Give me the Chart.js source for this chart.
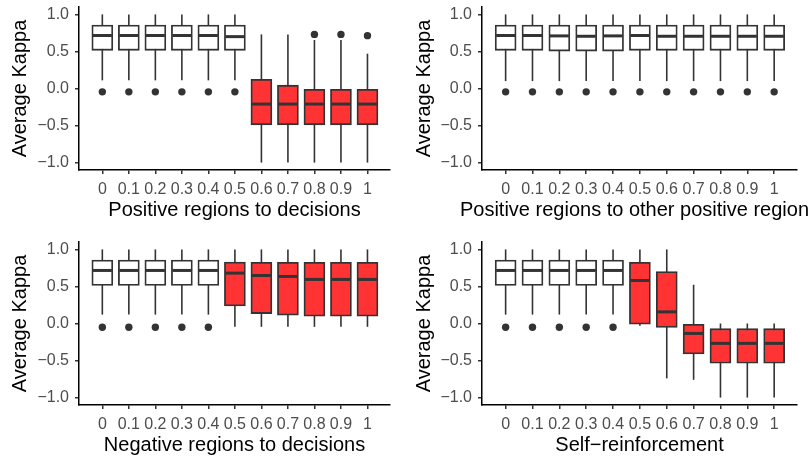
<!DOCTYPE html>
<html>
<head>
<meta charset="utf-8">
<script src="https://cdn.jsdelivr.net/npm/chart.js@4/dist/chart.umd.min.js"></script>
<style>
  html, body { margin: 0; padding: 0; background: #ffffff; }
  body { position: relative; width: 808px; height: 457px; overflow: hidden; }
  canvas { position: absolute; }
</style>
</head>
<body>
<canvas id="chartPosDecisions" width="404" height="228" style="left:0;top:0"></canvas>
<canvas id="chartPosOther" width="404" height="228" style="left:404px;top:0"></canvas>
<canvas id="chartNegDecisions" width="404" height="229" style="left:0;top:228px"></canvas>
<canvas id="chartSelf" width="404" height="229" style="left:404px;top:228px"></canvas>
<script>
const xLabels = ["0", "0.1", "0.2", "0.3", "0.4", "0.5", "0.6", "0.7", "0.8", "0.9", "1"];
const yTicks = [-1, -0.5, 0, 0.5, 1];

// Positive regions to decisions
const posDecLow = [0.11, 0.11, 0.11, 0.11, 0.11, 0.11, -1, -1, -1, -1, -1];
const posDecQ1 = [0.515, 0.515, 0.515, 0.515, 0.515, 0.515, -0.49, -0.49, -0.49, -0.49, -0.49];
const posDecMedian = [0.715, 0.715, 0.715, 0.715, 0.715, 0.7, -0.21, -0.21, -0.21, -0.21, -0.21];
const posDecQ3 = [0.857, 0.857, 0.857, 0.857, 0.857, 0.857, 0.125, 0.045, 0, 0, 0];
const posDecHigh = [1, 1, 1, 1, 1, 1, 0.73, 0.73, 0.655, 0.655, 0.47];
const posDecOutX = [0, 1, 2, 3, 4, 5, 8, 9, 10];
const posDecOutY = [-0.045, -0.045, -0.045, -0.045, -0.045, -0.045, 0.73, 0.73, 0.713];
const posDecRed = [0, 0, 0, 0, 0, 0, 1, 1, 1, 1, 1];

// Positive regions to other positive regions
const posOthLow = [0.1, 0.1, 0.1, 0.1, 0.1, 0.1, 0.1, 0.1, 0.1, 0.1, 0.1];
const posOthQ1 = [0.515, 0.515, 0.505, 0.505, 0.505, 0.515, 0.515, 0.515, 0.515, 0.515, 0.515];
const posOthMedian = [0.715, 0.715, 0.71, 0.705, 0.71, 0.715, 0.705, 0.705, 0.705, 0.705, 0.705];
const posOthQ3 = [0.857, 0.857, 0.857, 0.857, 0.857, 0.857, 0.857, 0.857, 0.857, 0.857, 0.857];
const posOthHigh = [1, 1, 1, 1, 1, 1, 1, 1, 1, 1, 1];
const posOthOutX = [0, 1, 2, 3, 4, 5, 6, 7, 8, 9, 10];
const posOthOutY = [-0.045, -0.045, -0.045, -0.045, -0.045, -0.045, -0.045, -0.045, -0.045, -0.045, -0.045];
const posOthRed = [0, 0, 0, 0, 0, 0, 0, 0, 0, 0, 0];

// Negative regions to decisions
const negDecLow = [0.12, 0.12, 0.12, 0.12, 0.12, -0.045, -0.045, -0.045, -0.045, -0.045, -0.045];
const negDecQ1 = [0.514, 0.514, 0.514, 0.514, 0.514, 0.238, 0.134, 0.112, 0.098, 0.098, 0.098];
const negDecMedian = [0.716, 0.716, 0.716, 0.716, 0.716, 0.68, 0.648, 0.635, 0.595, 0.595, 0.595];
const negDecQ3 = [0.855, 0.855, 0.855, 0.855, 0.855, 0.828, 0.825, 0.825, 0.825, 0.825, 0.825];
const negDecHigh = [1, 1, 1, 1, 1, 1, 1, 1, 1, 1, 1];
const negDecOutX = [0, 1, 2, 3, 4];
const negDecOutY = [-0.05, -0.05, -0.05, -0.05, -0.05];
const negDecRed = [0, 0, 0, 0, 0, 1, 1, 1, 1, 1, 1];

// Self-reinforcement
const selfLow = [0.12, 0.12, 0.12, 0.12, 0.12, -0.03, -0.74, -0.76, -1, -1, -1];
const selfQ1 = [0.514, 0.514, 0.514, 0.514, 0.514, -0.01, -0.054, -0.41, -0.537, -0.537, -0.537];
const selfMedian = [0.716, 0.716, 0.716, 0.716, 0.716, 0.58, 0.157, -0.134, -0.268, -0.268, -0.268];
const selfQ3 = [0.855, 0.855, 0.855, 0.855, 0.855, 0.825, 0.7, -0.01, -0.07, -0.07, -0.07];
const selfHigh = [1, 1, 1, 1, 1, 1, 1, 0.523, 0, 0, 0];
const selfOutX = [0, 1, 2, 3, 4];
const selfOutY = [-0.05, -0.05, -0.05, -0.05, -0.05];
const selfRed = [0, 0, 0, 0, 0, 1, 1, 1, 1, 1, 1];

const INK = "#333333";
const TICK_GRAY = "#4d4d4d";
const FONT = "'Liberation Sans', Arial, sans-serif";

// whiskers under the boxes, medians on top
const boxLinesPlugin = {
  id: "boxLines",
  beforeDatasetsDraw(chart) {
    const { ctx, scales } = chart;
    const ds = chart.data.datasets[0];
    ctx.save();
    ctx.strokeStyle = INK;
    ctx.lineWidth = 1.6;
    ds.low.forEach((lo, i) => {
      const px = scales.x.getPixelForValue(i);
      ctx.beginPath();
      ctx.moveTo(px, scales.y.getPixelForValue(lo));
      ctx.lineTo(px, scales.y.getPixelForValue(ds.high[i]));
      ctx.stroke();
    });
    ctx.restore();
  },
  afterDatasetsDraw(chart) {
    const { ctx, scales } = chart;
    const ds = chart.data.datasets[0];
    const bars = chart.getDatasetMeta(0).data;
    ctx.save();
    ctx.strokeStyle = INK;
    ctx.lineWidth = 3;
    ds.median.forEach((m, i) => {
      const bar = bars[i];
      const py = scales.y.getPixelForValue(m);
      ctx.beginPath();
      ctx.moveTo(bar.x - bar.width / 2 + 1, py);
      ctx.lineTo(bar.x + bar.width / 2 - 1, py);
      ctx.stroke();
    });
    ctx.restore();
  },
};

// x title drawn by hand so it is not squeezed to the plot width
const xTitlePlugin = {
  id: "xTitle",
  afterDraw(chart, args, opts) {
    const { ctx, chartArea } = chart;
    ctx.save();
    ctx.fillStyle = "#000000";
    ctx.font = `20px ${FONT}`;
    ctx.textAlign = "center";
    ctx.textBaseline = "middle";
    ctx.fillText(opts.text, (chartArea.left + chartArea.right) / 2, chartArea.bottom + 40);
    ctx.restore();
  },
};

function crearBoxplot(canvasId, serie, titulo, marco) {
  const boxes = serie.q1.map((q1, i) => ({ x: i, y: [q1, serie.q3[i]] }));
  const outliers = serie.outX.map((x, i) => ({ x, y: serie.outY[i] }));

  new Chart(document.getElementById(canvasId), {
    type: "bar",
    data: {
      datasets: [
        {
          data: boxes,
          low: serie.low,
          high: serie.high,
          median: serie.median,
          backgroundColor: serie.red.map((r) => (r ? "#ff3333" : "#ffffff")),
          borderColor: INK,
          borderWidth: 1.8,
          borderSkipped: false,
          barThickness: 21,
        },
        {
          type: "scatter",
          data: outliers,
          pointRadius: 3.7,
          pointBackgroundColor: INK,
          pointBorderWidth: 0,
        },
      ],
    },
    options: {
      responsive: false,
      animation: false,
      events: [],
      layout: { padding: { top: marco.top, right: marco.right, left: 0, bottom: 0 } },
      plugins: {
        legend: { display: false },
        tooltip: { enabled: false },
        xTitle: { text: titulo },
      },
      scales: {
        x: {
          type: "linear",
          offset: false,
          min: -0.88,
          max: 10.85,
          afterBuildTicks: (s) => { s.ticks = xLabels.map((_, i) => ({ value: i })); },
          afterFit: (s) => {
            s.height = marco.xHeight;
            s.paddingLeft = 0;
            s.paddingRight = 0;
          },
          ticks: {
            autoSkip: false,
            maxRotation: 0,
            padding: 6,
            color: TICK_GRAY,
            font: { family: FONT, size: 16 },
            callback: (v, i) => xLabels[i],
          },
          grid: { offset: false, drawOnChartArea: false, color: INK, lineWidth: 1.5, tickLength: 4 },
          border: { display: true, color: "#000000", width: 1.5 },
        },
        y: {
          min: -1.1,
          max: 1.1,
          afterBuildTicks: (s) => { s.ticks = yTicks.map((v) => ({ value: v })); },
          afterFit: (s) => {
            s.width = marco.yWidth;
            s.paddingTop = 0;
            s.paddingBottom = 0;
          },
          ticks: {
            padding: 6,
            color: TICK_GRAY,
            font: { family: FONT, size: 16 },
            callback: (v) => v.toFixed(1).replace("-", "\u2212"),
          },
          grid: { drawOnChartArea: false, color: INK, lineWidth: 1.5, tickLength: 4 },
          border: { display: true, color: "#000000", width: 1.5 },
          title: {
            display: true,
            text: "Average Kappa",
            color: "#000000",
            font: { family: FONT, size: 20 },
            padding: { top: 8, bottom: 0 },
          },
        },
      },
    },
    plugins: [boxLinesPlugin, xTitlePlugin],
  });
}

crearBoxplot("chartPosDecisions", {
  low: posDecLow, q1: posDecQ1, median: posDecMedian, q3: posDecQ3, high: posDecHigh,
  outX: posDecOutX, outY: posDecOutY, red: posDecRed,
}, "Positive regions to decisions", { top: 7, right: 14, yWidth: 79, xHeight: 58 });

crearBoxplot("chartPosOther", {
  low: posOthLow, q1: posOthQ1, median: posOthMedian, q3: posOthQ3, high: posOthHigh,
  outX: posOthOutX, outY: posOthOutY, red: posOthRed,
}, "Positive regions to other positive regions", { top: 7, right: 11, yWidth: 78, xHeight: 58 });

crearBoxplot("chartNegDecisions", {
  low: negDecLow, q1: negDecQ1, median: negDecMedian, q3: negDecQ3, high: negDecHigh,
  outX: negDecOutX, outY: negDecOutY, red: negDecRed,
}, "Negative regions to decisions", { top: 14, right: 14, yWidth: 79, xHeight: 52 });

crearBoxplot("chartSelf", {
  low: selfLow, q1: selfQ1, median: selfMedian, q3: selfQ3, high: selfHigh,
  outX: selfOutX, outY: selfOutY, red: selfRed,
}, "Self\u2212reinforcement", { top: 14, right: 11, yWidth: 78, xHeight: 52 });
</script>
</body>
</html>
